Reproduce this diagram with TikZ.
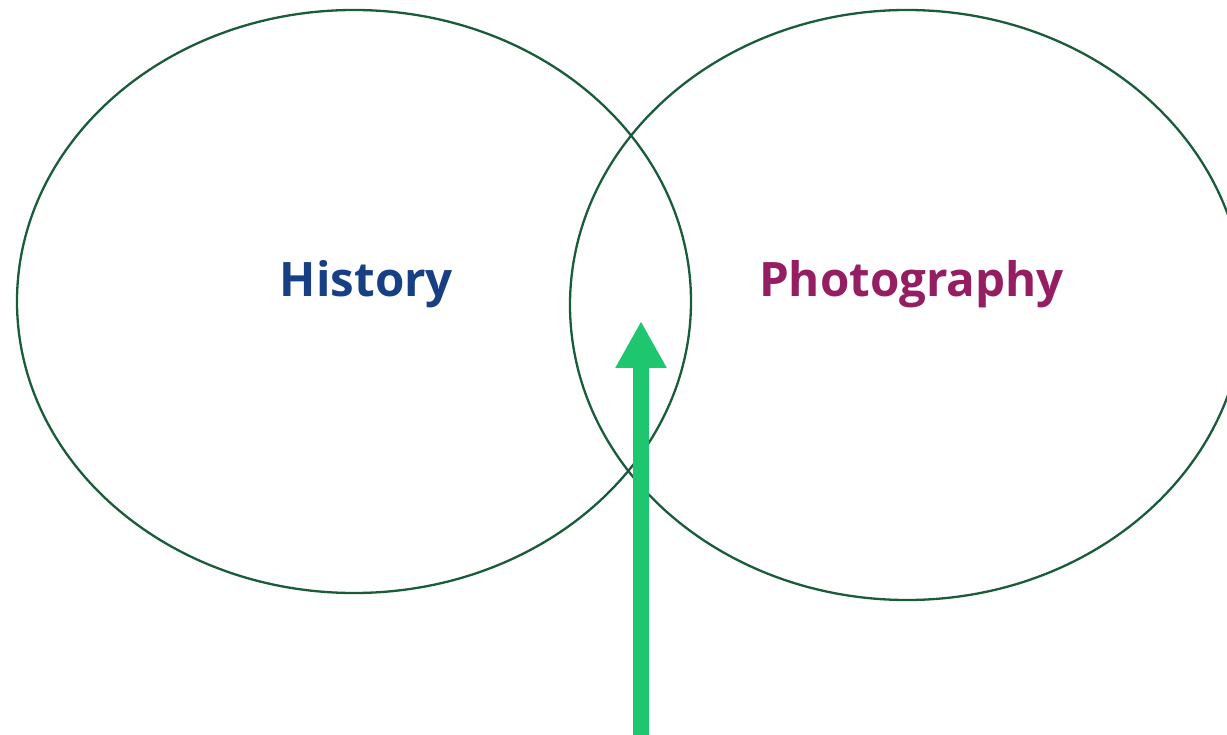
\documentclass[tikz,border=0pt]{standalone}
\usepackage{fontspec}
\setmainfont{Open Sans}
\usetikzlibrary{arrows.meta}
\definecolor{ringgreen}{HTML}{1A5C3A}
\definecolor{arrowgreen}{HTML}{1DC66F}
\definecolor{histblue}{HTML}{173F84}
\definecolor{photomag}{HTML}{951D62}
\tikzset{
  ring/.style={draw=ringgreen, line width=2.3pt},
  label/.style={font=\bfseries\fontsize{47.5}{57}\selectfont, anchor=base, inner sep=0pt},
  bigarrow/.style={draw=arrowgreen, line width=16.5pt, -{Triangle[width=48pt,length=47pt]}}
}
\begin{document}
\begin{tikzpicture}[x=1pt,y=-1pt]
\useasboundingbox (0,0) rectangle (1227,735);
\clip (0,0) rectangle (1227,735);
\draw[ring] (354,301.5) ellipse [x radius=337, y radius=291.5];
\draw[ring] (907,305) ellipse [x radius=337, y radius=295];
\node[label, text=histblue] (hist) at (366.5,297) {History};
\node[label, text=photomag] (photo) at (911.5,297) {Photography};
\coordinate (tail) at (641,740);
\coordinate (tip) at (641,321);
\draw[bigarrow] (tail) -- (tip);
\end{tikzpicture}
\end{document}
